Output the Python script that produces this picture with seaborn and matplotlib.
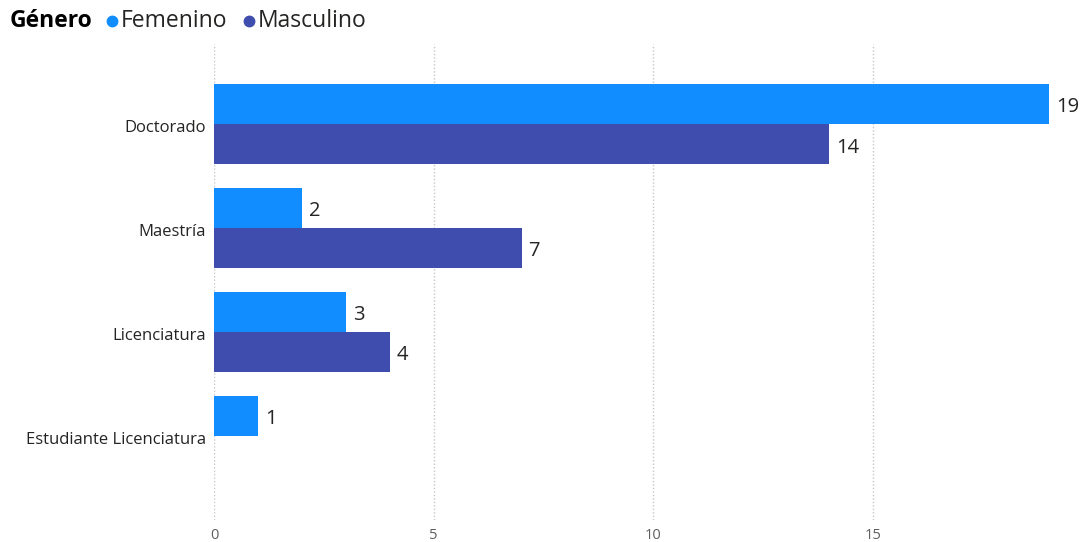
import numpy as np
import pandas as pd
import matplotlib
matplotlib.use('Agg')
import matplotlib.pyplot as plt
import matplotlib.transforms as mtransforms
import seaborn as sns
from matplotlib.lines import Line2D

# datos
niveles = ['Doctorado', 'Maestría', 'Licenciatura', 'Estudiante Licenciatura']
femenino = [19, 2, 3, 1]
masculino = [14, 7, 4, np.nan]
generos = ['Femenino', 'Masculino']
colores = ['#118DFF', '#3F4DAF']

df = pd.DataFrame({
    'Nivel': niveles * 2,
    'Género': ['Femenino'] * 4 + ['Masculino'] * 4,
    'Cantidad': femenino + masculino,
})

sns.set_theme(style='white')
plt.rcParams['font.family'] = ['Open Sans', 'DejaVu Sans']

W, H = 1083, 542
fig = plt.figure(figsize=(W / 100, H / 100), dpi=100)
ax = fig.add_axes([214 / W, 1 - 520 / H, (1049 - 214) / W, (520 - 44) / H])

sns.barplot(data=df, y='Nivel', x='Cantidad', hue='Género', order=niveles,
            hue_order=generos, palette=colores, orient='h', width=0.77,
            saturation=1, legend=False, ax=ax, linewidth=0,
            err_kws={'linewidth': 0})

for c in ax.containers:
    labs = ['' if np.isnan(v) else f'{int(v)}' for v in c.datavalues]
    txts = ax.bar_label(c, labels=labs, padding=5, fontsize=14.5, color='#252423')
    for t in txts:
        t.xyann = (5, -2.5)  # un poco más abajo, como en el original

ax.set_xlim(0, 19)
ax.set_ylim(3.81, -0.77)
ax.set_xticks([0, 5, 10, 15])
ax.set_xlabel('')
ax.set_ylabel('')
ax.tick_params(axis='x', labelsize=10.5, colors='#605E5C', length=0, pad=6)
ax.tick_params(axis='y', labelsize=12, colors='#252423', length=0, pad=6)
for t in ax.get_yticklabels():
    t.set_transform(t.get_transform() + mtransforms.ScaledTranslation(0, -2 / 100, fig.dpi_scale_trans))
ax.xaxis.grid(True, linestyle=(0, (1, 1.5)), color='#C8C6C4', linewidth=1)
ax.set_axisbelow(True)
for s in ax.spines.values():
    s.set_visible(False)

# leyenda
yl = 1 - 21 / H
fig.text(10 / W, yl, 'Género', fontsize=16.5, fontweight='bold', color='#000000', va='center')
fig.add_artist(Line2D([112 / W], [yl], marker='o', markersize=7.5, color=colores[0],
                      linestyle='', transform=fig.transFigure))
fig.text(121 / W, yl, 'Femenino', fontsize=16.5, color='#252423', va='center')
fig.add_artist(Line2D([249 / W], [yl], marker='o', markersize=7.5, color=colores[1],
                      linestyle='', transform=fig.transFigure))
fig.text(258 / W, yl, 'Masculino', fontsize=16.5, color='#252423', va='center')

fig.savefig('out.png', dpi=100)
